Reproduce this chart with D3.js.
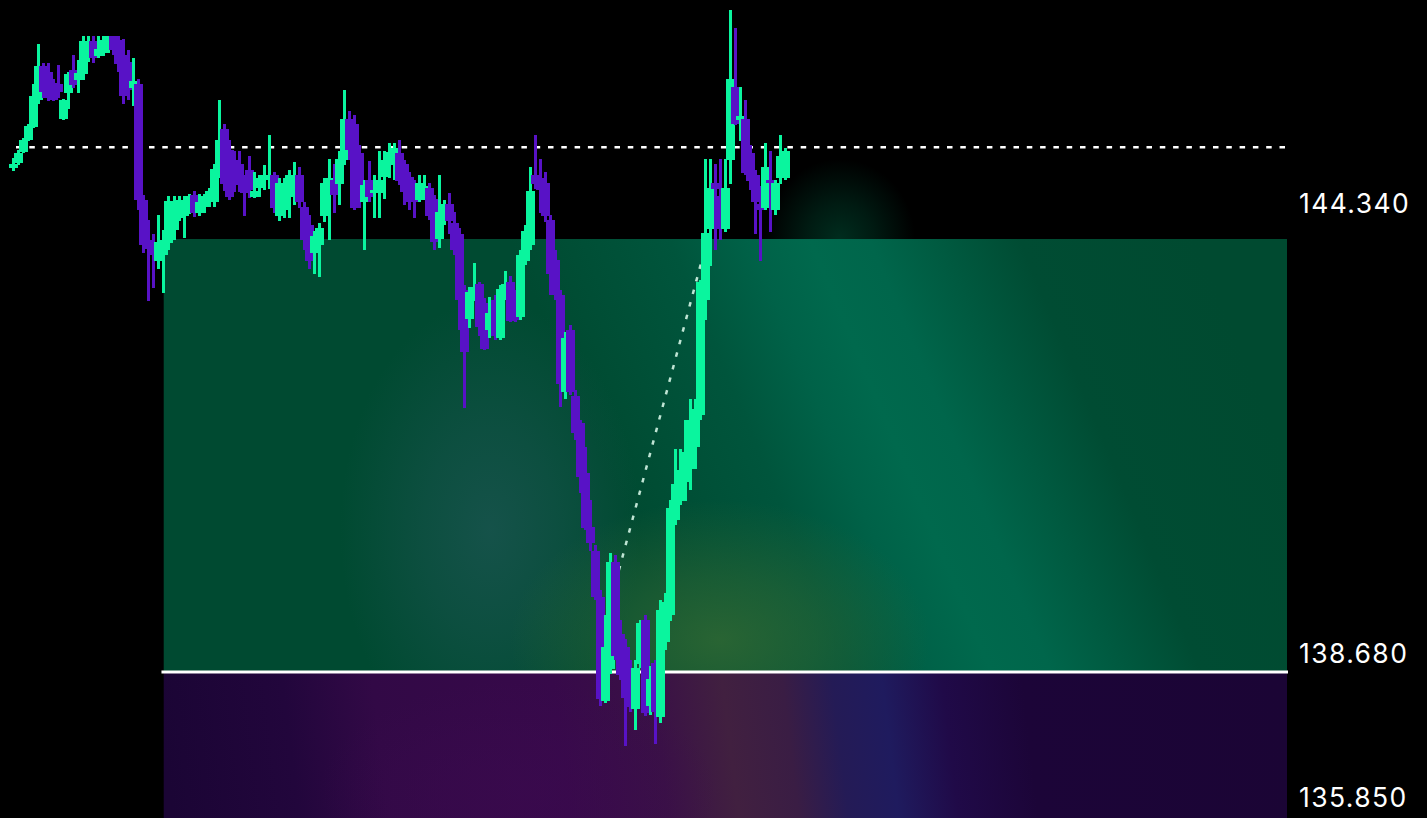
<!DOCTYPE html>
<html><head><meta charset="utf-8">
<script src="https://cdn.jsdelivr.net/npm/d3@7"></script>
<style>html,body{margin:0;padding:0;background:#000;overflow:hidden}</style>
</head><body><svg id="c" width="1427" height="818"></svg>
<script>
// ---- data ----
const openValues = [
145.27,145.33,145.48,145.63,145.80,146.16,146.60,146.52,146.38,146.37,
145.91,146.25,146.55,146.42,146.50,146.71,146.93,146.73,146.77,146.81,
146.99,146.94,146.74,146.65,146.31,146.37,144.85,144.33,144.26,144.05,
144.13,144.29,144.46,144.61,144.64,144.75,144.91,144.68,144.76,144.82,
144.82,145.20,145.78,145.50,145.37,145.32,145.15,145.24,144.89,145.01,
145.11,145.14,145.18,144.64,144.72,144.89,145.03,145.18,144.76,144.52,
144.16,144.26,144.64,145.06,145.11,145.06,145.37,145.91,145.84,145.46,
144.82,145.11,144.94,144.94,145.15,145.31,145.31,145.46,145.32,145.15,
145.05,144.85,144.91,145.01,144.86,144.34,144.63,144.80,144.55,144.41,
143.67,143.29,143.65,143.75,143.50,143.15,143.54,143.05,143.69,143.78,
143.61,143.32,144.05,144.26,145.18,145.14,145.07,144.59,144.07,143.61,
142.34,143.15,142.29,141.93,141.28,140.57,140.26,139.66,138.30,138.72,
140.12,139.18,139.01,138.64,138.20,138.78,139.36,138.23,138.80,138.09,
139.07,139.42,140.67,140.91,141.16,141.33,141.62,142.04,143.54,144.47,
145.07,144.90,144.47,145.37,146.33,145.90,145.91,145.46,145.18,144.80,
144.75,145.11,144.72,145.14,145.14];
const closeValues = [
145.32,145.46,145.63,145.82,146.21,146.60,146.26,146.18,146.16,146.26,
146.16,146.50,146.35,146.51,146.93,146.84,146.71,146.82,146.94,146.99,
146.81,146.63,146.21,146.29,146.41,144.85,144.26,144.21,144.13,144.30,
144.33,144.84,144.78,144.85,144.78,144.90,144.68,144.82,144.90,144.97,
145.26,145.63,145.06,144.89,145.05,145.10,144.94,144.98,144.97,145.14,
145.18,145.18,144.75,145.07,145.05,145.18,145.18,144.82,144.33,144.05,
144.38,144.48,145.07,145.14,144.91,145.39,145.91,145.50,144.75,144.85,
145.05,144.89,144.98,145.11,145.37,145.48,145.53,145.10,144.95,144.82,
144.82,145.07,145.03,144.64,144.30,144.69,144.80,144.58,144.20,143.54,
142.86,143.65,143.71,143.19,142.90,143.37,143.07,143.69,143.75,143.27,
143.28,144.13,144.44,144.97,145.06,144.98,144.64,143.88,143.61,142.44,
143.05,142.34,141.80,141.23,140.56,140.37,139.66,138.33,139.01,140.12,
138.89,138.64,138.34,138.22,138.73,139.32,138.14,138.59,138.16,139.49,
139.59,140.82,141.14,141.32,141.55,141.97,142.12,143.78,144.42,145.01,
144.99,144.47,145.01,146.43,145.84,145.95,145.20,145.10,144.82,144.72,
145.28,145.07,145.07,145.42,145.49];
const highValues = [
145.40,145.50,145.66,145.84,146.37,146.89,146.64,146.64,146.43,146.61,
146.17,146.52,146.74,146.68,146.99,146.99,146.99,146.99,146.99,146.99,
146.99,146.99,146.95,146.81,146.71,146.43,144.91,144.59,144.41,144.65,
144.46,144.90,144.90,144.90,144.90,144.93,144.97,144.93,144.93,145.01,
145.32,146.16,145.84,145.63,145.49,145.49,145.18,145.42,145.22,145.18,
145.31,145.70,145.22,145.14,145.14,145.24,145.35,145.28,144.82,144.65,
144.44,144.55,145.14,145.39,145.32,145.49,146.29,146.01,145.96,145.57,
145.11,145.36,145.18,145.49,145.49,145.59,145.59,145.63,145.37,145.22,
145.11,145.18,145.18,145.07,144.91,145.18,144.85,144.94,144.69,144.48,
143.74,143.71,144.03,143.78,143.57,143.58,143.61,143.74,143.92,143.86,
143.67,144.20,144.52,145.28,145.70,145.39,145.22,144.65,144.20,143.67,
143.12,143.22,142.37,141.97,141.62,140.93,140.34,139.75,139.42,140.24,
140.21,139.36,139.11,138.84,138.84,139.36,139.42,138.76,138.84,139.62,
139.71,140.93,141.59,141.59,141.97,142.25,142.25,143.80,145.39,145.39,
145.32,145.39,145.39,147.33,147.10,146.33,146.16,145.57,145.24,145.03,
145.59,145.49,145.11,145.70,145.53];
const lowValues = [
145.23,145.31,145.46,145.62,145.79,146.10,146.18,146.14,146.14,146.18,
145.90,146.04,146.31,146.25,146.42,146.65,146.64,146.71,146.73,146.77,
146.74,146.52,146.10,146.16,146.08,144.72,144.16,143.53,143.70,143.95,
143.63,144.20,144.33,144.58,144.35,144.67,144.63,144.64,144.68,144.76,
144.76,145.14,144.97,144.85,144.95,144.95,144.64,144.88,144.88,144.89,
144.98,144.99,144.68,144.58,144.61,144.61,144.78,144.75,144.20,143.95,
143.88,143.84,144.56,144.33,144.68,144.78,145.31,145.37,144.72,144.75,
144.20,144.82,144.61,144.61,144.86,145.14,145.11,145.05,144.78,144.72,
144.61,144.82,144.85,144.59,144.20,144.22,144.52,144.41,144.13,143.15,
142.13,143.18,143.53,143.07,142.89,143.05,143.02,143.02,143.54,143.25,
143.25,143.28,144.00,144.20,144.99,144.68,144.56,143.61,143.54,142.14,
142.25,142.30,141.71,141.02,140.54,140.26,139.62,138.23,138.27,138.65,
138.84,138.57,137.71,138.16,137.92,138.73,138.10,138.12,137.74,138.01,
138.97,139.35,140.60,140.86,140.91,141.06,141.33,141.97,143.28,143.99,
144.20,144.33,144.43,145.06,145.83,145.62,145.18,144.98,144.41,144.05,
144.72,144.43,144.65,145.06,145.11];

const levelValues = [144.34, 138.68, 135.85];      // take profit, entry, stop
const levelLabels = ["144.340", "138.680", "135.850"];
const currentPrice = 145.54;
const positionStartIndex = 30;
const trendPoints = [{i: 120.8, p: 140.01}, {i: 137.2, p: 144.03}];
const visibleSlots = 254;

// ---- layout ----
const W = 1427, H = 818;
const plotLeft = 13, plotRight = 1287;
const svg = d3.select("#c");
const x = d3.scaleLinear().domain([0, visibleSlots]).range([plotLeft, plotRight]);
const y = d3.scaleLinear().domain([levelValues[0], levelValues[1]]).range([239, 672]);

const GREEN = "#0af59e", PURPLE = "#5812c6";

svg.append("rect").attr("width", W).attr("height", H).attr("fill", "#000");
const defs = svg.append("defs");

const bx0 = x(positionStartIndex), bx1 = plotRight;
const yTP = y(levelValues[0]), yEn = y(levelValues[1]), ySL = y(levelValues[2]);

// skewed linear gradient helper: iso-lines lean with slope k (dx per dy)
function skewGrad(id, yMid, k, stops) {
  const L = (bx1 - bx0) * (1 + k * k);
  const g = defs.append("linearGradient").attr("id", id).attr("gradientUnits", "userSpaceOnUse")
    .attr("x1", bx0).attr("y1", yMid).attr("x2", bx1).attr("y2", yMid - k * (bx1 - bx0));
  stops.forEach(([px, col]) => g.append("stop").attr("offset", (px - bx0) / L).attr("stop-color", col));
}
function radial(id, col, op) {
  const g = defs.append("radialGradient").attr("id", id);
  g.append("stop").attr("offset", 0).attr("stop-color", col).attr("stop-opacity", op);
  g.append("stop").attr("offset", 0.45).attr("stop-color", col).attr("stop-opacity", op * 0.6);
  g.append("stop").attr("offset", 1).attr("stop-color", col).attr("stop-opacity", 0);
}

skewGrad("gBand", 455, 0.42, [
  [164, "#004a31"], [600, "#004a31"], [760, "#00553c"], [840, "#006248"],
  [900, "#00694d"], [960, "#00664b"], [1030, "#005a40"], [1110, "#004c33"], [1287, "#004a30"]]);
skewGrad("pBand", 745, 0.12, [
  [164, "#1b0535"], [290, "#22063c"], [380, "#320946"], [560, "#37094a"], [660, "#3a1146"],
  [730, "#412040"], [790, "#3a1d44"], [840, "#241b56"], [890, "#1f1b5e"], [950, "#200a48"],
  [1030, "#1c0538"], [1287, "#1b0535"]]);
radial("rTeal", "#1c5552", 0.75);
radial("rOlive", "#336a33", 0.8);
radial("rGlow", "#004a32", 0.6);
radial("rMag", "#3c0a50", 0.5);

defs.append("clipPath").attr("id", "clipG").append("rect")
  .attr("x", bx0).attr("y", yTP).attr("width", bx1 - bx0).attr("height", yEn - yTP);
defs.append("clipPath").attr("id", "clipP").append("rect")
  .attr("x", bx0).attr("y", yEn).attr("width", bx1 - bx0).attr("height", ySL - yEn);

// glow above the profit zone
svg.append("ellipse").attr("cx", 840).attr("cy", yTP).attr("rx", 75).attr("ry", 80)
  .attr("fill", "url(#rGlow)");

// profit zone
const gG = svg.append("g").attr("clip-path", "url(#clipG)");
gG.append("rect").attr("x", bx0).attr("y", yTP).attr("width", bx1 - bx0).attr("height", yEn - yTP)
  .attr("fill", "url(#gBand)");
gG.append("ellipse").attr("cx", 490).attr("cy", 530).attr("rx", 150).attr("ry", 230).attr("fill", "url(#rTeal)");
gG.append("ellipse").attr("cx", 720).attr("cy", 640).attr("rx", 210).attr("ry", 140).attr("fill", "url(#rOlive)");

// loss zone
const gP = svg.append("g").attr("clip-path", "url(#clipP)");
gP.append("rect").attr("x", bx0).attr("y", yEn).attr("width", bx1 - bx0).attr("height", ySL - yEn)
  .attr("fill", "url(#pBand)");
gP.append("ellipse").attr("cx", 520).attr("cy", 790).attr("rx", 200).attr("ry", 110).attr("fill", "url(#rMag)");

// entry line
svg.append("line").attr("x1", bx0 - 2).attr("x2", bx1 + 1).attr("y1", yEn).attr("y2", yEn)
  .attr("stroke", "#fff").attr("stroke-width", 3);

// current price dotted line
svg.append("line").attr("x1", 16).attr("x2", plotRight)
  .attr("y1", y(currentPrice)).attr("y2", y(currentPrice))
  .attr("stroke", "#fff").attr("stroke-width", 2.5).attr("stroke-dasharray", "5.5 7.8");

// trend dotted line
svg.append("line")
  .attr("x1", x(trendPoints[0].i)).attr("y1", y(trendPoints[0].p))
  .attr("x2", x(trendPoints[1].i)).attr("y2", y(trendPoints[1].p))
  .attr("stroke", "#d4f5e6").attr("stroke-opacity", 0.9).attr("stroke-width", 2.5)
  .attr("stroke-dasharray", "4.5 8.5");

// candles
const candles = openValues.map((o, i) => ({i, o, c: closeValues[i], h: highValues[i], l: lowValues[i]}));
const bodyW = 9, wickW = 3;
const cg = svg.append("g").attr("shape-rendering", "crispEdges");
candles.forEach(d => {
  const col = d.c >= d.o ? GREEN : PURPLE;
  const cx = Math.round(x(d.i));
  cg.append("rect").attr("x", cx - 1).attr("y", y(d.h)).attr("width", wickW)
    .attr("height", Math.max(1, y(d.l) - y(d.h))).attr("fill", col);
  const top = y(Math.max(d.o, d.c)), bot = y(Math.min(d.o, d.c));
  cg.append("rect").attr("x", cx - 4).attr("y", top).attr("width", bodyW)
    .attr("height", Math.max(2, bot - top)).attr("fill", col);
});

// level labels
const labelOffsets = [-26, -9, 0];
svg.selectAll("text.lv").data(levelValues).enter().append("text")
  .attr("class", "lv")
  .attr("x", 1299)
  .attr("y", (v, i) => i === 2 ? Math.min(y(v), H) - 11 : y(v) + labelOffsets[i])
  .attr("fill", "#fff")
  .attr("font-family", "Inter, 'Noto Sans', sans-serif")
  .attr("font-size", 26.5)
  .attr("letter-spacing", 1.4)
  .text((v, i) => levelLabels[i]);
</script></body></html>
